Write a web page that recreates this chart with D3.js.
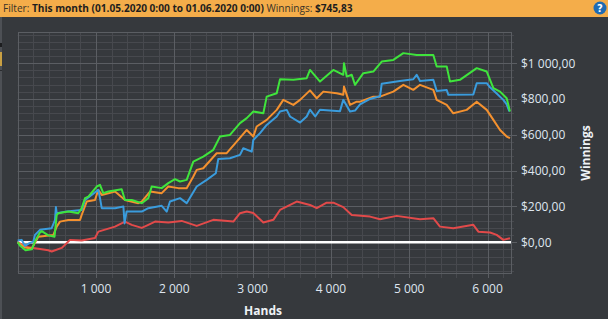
<!DOCTYPE html>
<html>
<head>
<meta charset="utf-8">
<script src="https://cdn.jsdelivr.net/npm/d3@7"></script>
<style>
  html, body { margin: 0; padding: 0; background: #36393d; overflow: hidden; }
  svg { display: block; }
</style>
</head>
<body>
<div id="chart"></div>
<script>
// chart values: [hands, winnings $]
const xTicks = [1000, 2000, 3000, 4000, 5000, 6000];
const yTicks = [0, 200, 400, 600, 800, 1000];

const redSeries = [
  [0, 0], [93, -25], [391, -45], [434, -52], [562, -32], [668, 13], [817, 9], [987, 24],
  [1030, 59], [1243, 87], [1370, 115], [1456, 97], [1584, 80], [1668, 97], [1754, 115],
  [1924, 110], [2094, 119], [2286, 91], [2498, 125], [2754, 115], [2839, 162], [2925, 171],
  [3009, 163], [3137, 110], [3265, 125], [3350, 180], [3563, 227], [3733, 208], [3819, 190],
  [3946, 221], [4031, 221], [4158, 196], [4266, 152], [4500, 143], [4627, 128], [4840, 147],
  [5138, 128], [5308, 134], [5393, 87], [5563, 78], [5819, 97], [5883, 59], [6032, 54],
  [6117, 41], [6202, 13], [6287, 22]
];

const blueSeries = [
  [0, 10], [51, 13], [93, -20], [150, -5], [199, 3], [221, 41], [285, 69], [434, 78],
  [476, 124], [488, 196], [498, 162], [626, 171], [817, 180], [860, 236], [1029, 292],
  [1051, 246], [1073, 190], [1243, 190], [1350, 199], [1365, 105], [1390, 171], [1584, 171],
  [1668, 190], [1839, 203], [1903, 171], [1945, 227], [2073, 246], [2158, 218], [2286, 311],
  [2414, 348], [2530, 385], [2562, 465], [2711, 469], [2839, 488], [2881, 525], [2989, 506],
  [3009, 571], [3095, 609], [3180, 655], [3308, 702], [3350, 730], [3436, 739], [3478, 702],
  [3606, 668], [3691, 702], [3733, 740], [3800, 702], [3860, 740], [4116, 732], [4158, 795],
  [4244, 730], [4308, 735], [4372, 770], [4500, 800], [4627, 815], [4649, 885], [4882, 900],
  [5052, 910], [5095, 935], [5138, 900], [5308, 907], [5351, 845], [5479, 850], [5500, 823],
  [5819, 825], [5862, 888], [5990, 888], [6032, 865], [6117, 830], [6202, 795], [6245, 770],
  [6279, 730]
];

const orangeSeries = [
  [0, 0], [93, -30], [180, -35], [263, 31], [455, 40], [498, 87], [540, 115], [646, 124],
  [796, 124], [817, 152], [881, 227], [987, 236], [1029, 292], [1073, 264], [1243, 283],
  [1370, 236], [1540, 218], [1584, 227], [1690, 283], [1839, 274], [1923, 311], [2051, 302],
  [2158, 302], [2243, 367], [2286, 404], [2370, 413], [2541, 497], [2669, 497], [2797, 562],
  [2925, 627], [3009, 590], [3052, 646], [3180, 683], [3308, 739], [3392, 795], [3520, 767],
  [3606, 795], [3733, 848], [3819, 804], [3903, 841], [4074, 832], [4158, 823], [4167, 869],
  [4244, 767], [4330, 785], [4372, 785], [4542, 813], [4627, 813], [4797, 841], [4925, 879],
  [5052, 851], [5138, 879], [5308, 851], [5351, 795], [5479, 767], [5563, 720], [5734, 739],
  [5862, 785], [5990, 739], [6075, 683], [6160, 627], [6245, 590], [6287, 581]
];

const greenSeries = [
  [0, 0], [30, -20], [100, -45], [180, -40], [221, 5], [285, 55], [307, 62], [391, 38],
  [470, 30], [498, 152], [519, 162], [646, 171], [774, 162], [817, 190], [860, 246],
  [902, 255], [1009, 311], [1051, 320], [1093, 274], [1157, 283], [1328, 296], [1370, 236],
  [1456, 236], [1584, 218], [1668, 246], [1711, 311], [1839, 302], [1923, 330], [2009, 352],
  [2073, 339], [2158, 348], [2243, 450], [2370, 478], [2498, 516], [2584, 590], [2711, 599],
  [2839, 665], [2925, 693], [3009, 730], [3137, 720], [3180, 813], [3308, 832], [3350, 910],
  [3520, 907], [3691, 916], [3733, 962], [3861, 897], [4031, 962], [4158, 935], [4167, 1000],
  [4202, 925], [4266, 935], [4308, 879], [4414, 944], [4542, 953], [4649, 1009], [4797, 1018],
  [4925, 1056], [5095, 1046], [5308, 1046], [5351, 981], [5479, 981], [5521, 897], [5648, 907],
  [5862, 972], [5990, 953], [6075, 860], [6160, 841], [6245, 804], [6287, 730]
];

const seriesList = [
  { name: "red", values: redSeries, color: "#e24a4a" },
  { name: "orange", values: orangeSeries, color: "#f4912f" },
  { name: "blue", values: blueSeries, color: "#3a9cdd" },
  { name: "green", values: greenSeries, color: "#3fe43c" }
];

const W = 608, H = 319;
const plot = { left: 17.7, right: 511, top: 32, bottom: 273 };

const svg = d3.select("#chart").append("svg")
  .attr("width", W)
  .attr("height", H);

// header bar
svg.append("rect").attr("x", 0).attr("y", 0).attr("width", W).attr("height", 17).attr("fill", "#f4ad4a");

const header = svg.append("text")
  .attr("x", 3)
  .attr("y", 12)
  .attr("font-family", "'Open Sans', 'DejaVu Sans', sans-serif")
  .attr("font-size", 10.1)
  .attr("fill", "#1e1e1e");
header.append("tspan").attr("fill", "#3a3328").text("Filter: ");
header.append("tspan").attr("font-weight", "bold").text("This month (01.05.2020 0:00 to 01.06.2020 0:00)");
header.append("tspan").attr("fill", "#3a3328").text(" Winnings: ");
header.append("tspan").attr("font-weight", "bold").text("$745,83");

// help icon
svg.append("circle").attr("cx", 600).attr("cy", 8).attr("r", 6.5).attr("fill", "#1f6bb3");
svg.append("text")
  .attr("x", 600).attr("y", 12)
  .attr("text-anchor", "middle")
  .attr("font-family", "'DejaVu Sans', sans-serif")
  .attr("font-weight", "bold")
  .attr("font-size", 10)
  .attr("fill", "#fff")
  .text("?");

// sliver of the side panel at the left edge
svg.append("rect").attr("x", 0).attr("y", 17).attr("width", 2).attr("height", H - 17).attr("fill", "#4d5055");
svg.append("rect").attr("x", 0).attr("y", 43).attr("width", 2).attr("height", 4).attr("fill", "#1c1d1f");
svg.append("rect").attr("x", 0).attr("y", 52).attr("width", 2).attr("height", 14).attr("fill", "#c9a043");
svg.append("rect").attr("x", 0).attr("y", 70).attr("width", 2).attr("height", 1).attr("fill", "#2a2c2f");

const x = d3.scaleLinear().domain([0, 6300]).range([plot.left, plot.right]);
const y = d3.scaleLinear().domain([-172, 1174]).range([plot.bottom, plot.top]);

const grid = svg.append("g");

// minor grid
const xMinor = d3.range(200, 6300, 200).filter(v => v % 1000 !== 0);
const yMinor = d3.range(-160, 1174, 40).filter(v => v % 200 !== 0);

grid.selectAll(".vminor")
  .data(xMinor)
  .join("line")
  .attr("x1", d => Math.round(x(d)) + 0.5)
  .attr("x2", d => Math.round(x(d)) + 0.5)
  .attr("y1", plot.top)
  .attr("y2", plot.bottom + 5)
  .attr("stroke", "#47494e");

grid.selectAll(".hminor")
  .data(yMinor)
  .join("line")
  .attr("x1", plot.left)
  .attr("x2", plot.right + 3)
  .attr("y1", d => Math.round(y(d)) + 0.5)
  .attr("y2", d => Math.round(y(d)) + 0.5)
  .attr("stroke", "#47494e");

// major grid
grid.selectAll(".vmajor")
  .data(xTicks)
  .join("line")
  .attr("x1", d => Math.round(x(d)) + 0.5)
  .attr("x2", d => Math.round(x(d)) + 0.5)
  .attr("y1", plot.top)
  .attr("y2", plot.bottom + 5)
  .attr("stroke", "#5b5e63");

grid.selectAll(".hmajor")
  .data(yTicks)
  .join("line")
  .attr("x1", plot.left)
  .attr("x2", plot.right + 6)
  .attr("y1", d => Math.round(y(d)) + 0.5)
  .attr("y2", d => Math.round(y(d)) + 0.5)
  .attr("stroke", "#5b5e63");

// plot frame
svg.append("rect")
  .attr("x", Math.round(plot.left) + 0.5)
  .attr("y", plot.top + 0.5)
  .attr("width", Math.round(plot.right) - Math.round(plot.left))
  .attr("height", plot.bottom - plot.top)
  .attr("fill", "none")
  .attr("stroke", "#5b5e63");

// zero line
svg.append("line")
  .attr("x1", plot.left)
  .attr("x2", plot.right)
  .attr("y1", y(0))
  .attr("y2", y(0))
  .attr("stroke", "#ffffff")
  .attr("stroke-width", 2.5);

const line = d3.line()
  .x(d => x(d[0]))
  .y(d => y(d[1]));

svg.append("g")
  .selectAll("path")
  .data(seriesList)
  .join("path")
  .attr("d", d => line(d.values))
  .attr("fill", "none")
  .attr("stroke", d => d.color)
  .attr("stroke-width", 2)
  .attr("stroke-linejoin", "round");

// tick labels
const fmtMoney = v => "$" + (v >= 1000 ? Math.floor(v / 1000) + " " + String(v % 1000).padStart(3, "0") : String(v)) + ",00";
const fmtHands = v => Math.floor(v / 1000) + " " + String(v % 1000).padStart(3, "0");

svg.append("g")
  .selectAll("text")
  .data(yTicks)
  .join("text")
  .attr("x", 521)
  .attr("y", d => y(d) + 4.5)
  .attr("font-family", "'Open Sans', 'DejaVu Sans', sans-serif")
  .attr("font-size", 12)
  .attr("fill", "#dfe6f0")
  .text(fmtMoney);

svg.append("g")
  .selectAll("text")
  .data(xTicks)
  .join("text")
  .attr("x", d => x(d))
  .attr("y", 293)
  .attr("text-anchor", "middle")
  .attr("font-family", "'Open Sans', 'DejaVu Sans', sans-serif")
  .attr("font-size", 12)
  .attr("fill", "#dfe6f0")
  .text(fmtHands);

svg.append("text")
  .attr("x", 263)
  .attr("y", 315)
  .attr("text-anchor", "middle")
  .attr("font-family", "'Open Sans', 'DejaVu Sans', sans-serif")
  .attr("font-weight", "bold")
  .attr("font-size", 12)
  .attr("fill", "#eef2f6")
  .text("Hands");

svg.append("text")
  .attr("transform", "translate(590,153) rotate(-90)")
  .attr("text-anchor", "middle")
  .attr("font-family", "'Open Sans', 'DejaVu Sans', sans-serif")
  .attr("font-weight", "bold")
  .attr("font-size", 12)
  .attr("fill", "#eef2f6")
  .text("Winnings");
</script>
</body>
</html>
